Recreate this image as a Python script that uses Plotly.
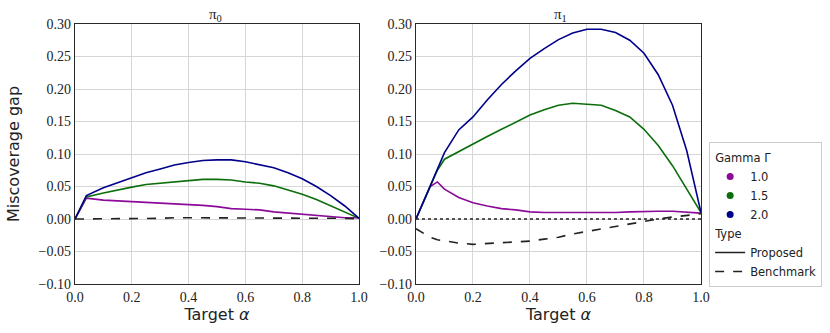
import plotly.graph_objects as go
from plotly.subplots import make_subplots as mks

# --- data ---
pi0_x = [0.0, 0.04, 0.1, 0.15, 0.2, 0.25, 0.3, 0.35, 0.4, 0.45, 0.5, 0.55, 0.6, 0.65, 0.7, 0.75, 0.8, 0.85, 0.9, 0.95, 1.0]
pi0_g10 = [0.0, 0.032, 0.029, 0.028, 0.027, 0.025, 0.025, 0.024, 0.022, 0.021, 0.019, 0.016, 0.015, 0.014, 0.011, 0.009, 0.007, 0.005, 0.003, 0.002, 0.002]
pi0_g15 = [0.0, 0.034, 0.040, 0.045, 0.049, 0.053, 0.055, 0.058, 0.060, 0.061, 0.061, 0.060, 0.057, 0.055, 0.051, 0.045, 0.038, 0.030, 0.020, 0.010, 0.001]
pi0_g20 = [0.0, 0.036, 0.048, 0.056, 0.064, 0.071, 0.077, 0.083, 0.087, 0.090, 0.091, 0.091, 0.088, 0.084, 0.079, 0.071, 0.062, 0.050, 0.036, 0.020, 0.001]
pi0_bench = [0.0, 0.0, 0.0, 0.0, 0.001, 0.001, 0.001, 0.002, 0.002, 0.002, 0.002, 0.002, 0.002, 0.002, 0.002, 0.001, 0.001, 0.001, 0.001, 0.001, 0.0]

pi1_x = [0.0, 0.05, 0.075, 0.1, 0.15, 0.2, 0.25, 0.3, 0.35, 0.4, 0.45, 0.5, 0.55, 0.6, 0.65, 0.7, 0.75, 0.8, 0.85, 0.9, 0.95, 1.0]
pi1_g10 = [0.0, 0.050, 0.057, 0.046, 0.033, 0.025, 0.020, 0.016, 0.014, 0.011, 0.010, 0.010, 0.009, 0.010, 0.010, 0.010, 0.011, 0.012, 0.012, 0.012, 0.011, 0.009]
pi1_g15 = [0.0, 0.050, 0.075, 0.092, 0.104, 0.115, 0.127, 0.138, 0.149, 0.160, 0.168, 0.175, 0.178, 0.177, 0.175, 0.167, 0.157, 0.138, 0.113, 0.082, 0.047, 0.010]
pi1_g20 = [0.0, 0.050, 0.076, 0.102, 0.137, 0.157, 0.183, 0.207, 0.228, 0.247, 0.262, 0.276, 0.286, 0.292, 0.292, 0.287, 0.275, 0.255, 0.222, 0.175, 0.105, 0.010]
pi1_bench = [-0.015, -0.028, -0.032, -0.034, -0.037, -0.039, -0.038, -0.037, -0.036, -0.034, -0.031, -0.028, -0.023, -0.019, -0.016, -0.012, -0.008, -0.003, 0.0, 0.003, 0.006, 0.008]

gammas = ["1.0", "1.5", "2.0"]
colours = ["#8b0a99", "#0b6e0b", "#00008b"]
ticks_x = [0.0, 0.2, 0.4, 0.6, 0.8, 1.0]
ticks_y = [-0.10, -0.05, 0.0, 0.05, 0.10, 0.15, 0.20, 0.25, 0.30]

SERIF = "Liberation Serif"
SANS = "DejaVu Sans"

fig = mks(rows=1, cols=2, subplot_titles=["π<sub>0</sub>", "π<sub>1</sub>"])

panels = [
    (pi0_x, [pi0_g10, pi0_g15, pi0_g20], pi0_bench),
    (pi1_x, [pi1_g10, pi1_g15, pi1_g20], pi1_bench),
]
for col, (xs, props, bench) in enumerate(panels, start=1):
    for ys, c in zip(props, colours):
        fig.add_trace(go.Scatter(x=xs, y=ys, mode="lines", line=dict(color=c, width=1.6),
                                 showlegend=False), row=1, col=col)
    fig.add_trace(go.Scatter(x=xs, y=bench, mode="lines",
                             line=dict(color="#222222", width=1.6, dash="dash"),
                             showlegend=False), row=1, col=col)

# zero reference line on the right panel
fig.add_trace(go.Scatter(x=[0.0, 1.0], y=[0.0, 0.0], mode="lines",
                         line=dict(color="#222222", width=1.3, dash="dot"),
                         showlegend=False), row=1, col=2)

# legend entries
for i, (g, c) in enumerate(zip(gammas, colours)):
    fig.add_trace(go.Scatter(x=[None], y=[None], mode="markers", name=g,
                             marker=dict(color=c, size=7),
                             legendgroup="gamma",
                             legendgrouptitle=dict(text="Gamma Γ") if i == 0 else None))
fig.add_trace(go.Scatter(x=[None], y=[None], mode="lines", name="Proposed",
                         line=dict(color="#222222", width=1.6),
                         legendgroup="type", legendgrouptitle=dict(text="Type")))
fig.add_trace(go.Scatter(x=[None], y=[None], mode="lines", name="Benchmark",
                         line=dict(color="#222222", width=1.6, dash="dash"),
                         legendgroup="type"))

axis_common = dict(showline=True, linewidth=1.4, linecolor="#2a2a2a", mirror=True,
                   showgrid=True, gridcolor="#d6d6d6", gridwidth=1, zeroline=False,
                   ticks="", automargin=False,
                   tickfont=dict(family=SERIF, size=14, color="#222222"))

fig.update_xaxes(range=[0, 1], tickvals=ticks_x, ticktext=[f"{v:.1f}" for v in ticks_x],
                 title=dict(text="Target <i>α</i>", font=dict(family=SANS, size=16, color="#222222"),
                            standoff=2), **axis_common)
fig.update_yaxes(range=[-0.10, 0.30], tickvals=ticks_y,
                 ticktext=[f"{v:.2f}".replace("-", "−") for v in ticks_y],
                 **axis_common)
fig.update_yaxes(title=dict(text="Miscoverage gap", font=dict(family=SANS, size=16, color="#222222"),
                            standoff=14), row=1, col=1)

fig.update_layout(
    width=830, height=333,
    margin=dict(l=75, r=129, t=24, b=49, autoexpand=False),
    plot_bgcolor="white", paper_bgcolor="white",
    xaxis=dict(domain=[0.0, 0.4537]),
    xaxis2=dict(domain=[0.5447, 1.0]),
    yaxis=dict(domain=[0.0, 1.0]),
    yaxis2=dict(domain=[0.0, 1.0]),
    legend=dict(x=1.013, y=0.546, xanchor="left", yanchor="top",
                bordercolor="#cccccc", borderwidth=1, bgcolor="white",
                font=dict(family=SANS, size=11.5, color="#222222"),
                grouptitlefont=dict(family=SANS, size=11.5, color="#222222"),
                tracegroupgap=0, itemwidth=30),
)
for ann in fig.layout.annotations:
    ann.font = dict(family=SERIF, size=15, color="#222222")
    ann.yshift = -2

fig.write_html("out.html", config={"displayModeBar": False},
               post_script="document.body.style.margin='0';")
